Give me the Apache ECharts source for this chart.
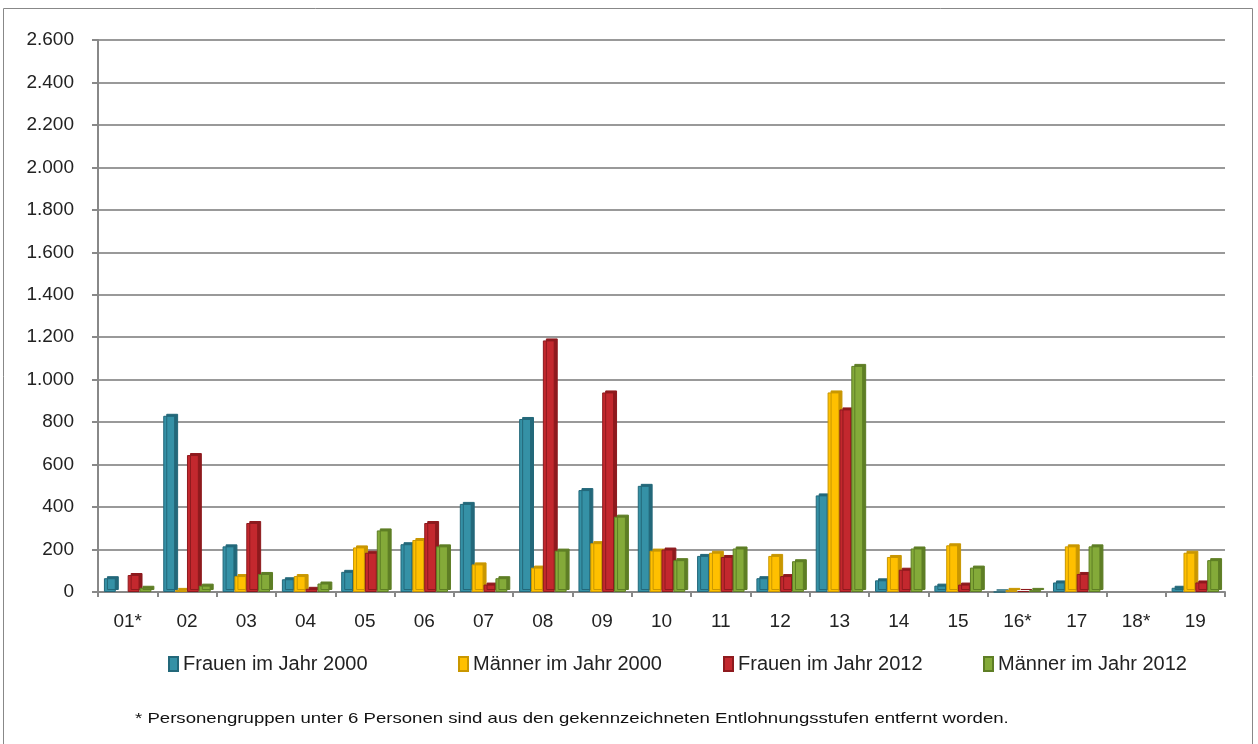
<!DOCTYPE html>
<html><head><meta charset="utf-8">
<script src="https://cdn.jsdelivr.net/npm/echarts@6/dist/echarts.min.js"></script>
<style>html,body{margin:0;padding:0;background:#fff}#c{width:1258px;height:744px}</style>
</head><body><div id="c"></div>
<script>
const categories = ['01*','02','03','04','05','06','07','08','09','10','11','12','13','14','15','16*','17','18*','19'];
const frauen2000 = [65,830,215,60,95,225,415,815,480,500,170,65,455,55,30,0,45,null,20];
const maenner2000 = [null,10,75,75,210,245,130,115,230,195,185,170,940,165,220,10,215,null,185];
const frauen2012 = [80,645,325,15,185,325,35,1185,940,200,165,75,860,105,35,5,85,null,45];
const maenner2012 = [20,30,85,40,290,215,65,195,355,150,205,145,1065,205,115,10,215,null,150];
const seriesNames = ['Frauen im Jahr 2000','Männer im Jahr 2000','Frauen im Jahr 2012','Männer im Jahr 2012'];
const yTicks = [0,200,400,600,800,1000,1200,1400,1600,1800,2000,2200,2400,2600];
const footnote = '* Personengruppen unter 6 Personen sind aus den gekennzeichneten Entlohnungsstufen entfernt worden.';

const colors = ['#3591A6','#FFC000','#C3282E','#84AA39'];
const dark = ['#23687A','#C99700','#8E1A1E','#5E7E25'];
const legendLeft = [163,453,718,978];
const chart = echarts.init(document.getElementById('c'));
const data = [frauen2000, maenner2000, frauen2012, maenner2012];
chart.setOption({
  animation:false,
  textStyle:{fontFamily:'Liberation Sans, Arial, sans-serif'},
  graphic:[
    {type:'rect',shape:{x:3.5,y:8.5,width:1249,height:740},style:{fill:'none',stroke:'#888',lineWidth:1}},
    {type:'text',x:135,y:711,scaleX:1.24,style:{text:footnote,fontSize:15,fill:'#111',fontFamily:'Liberation Sans, Arial, sans-serif'}}
  ],
  grid:{left:98,right:33,top:40,bottom:152},
  legend:seriesNames.map((n,i)=>({top:649,left:legendLeft[i],itemWidth:9,itemHeight:14,icon:'rect',
    textStyle:{fontSize:20,color:'#222'},data:[n]})),
  xAxis:{type:'category',data:categories,
    axisLine:{lineStyle:{color:'#888',width:2}},
    axisTick:{show:true,length:5,lineStyle:{color:'#888',width:2}},
    axisLabel:{fontSize:19,color:'#222',margin:20}},
  yAxis:{type:'value',min:0,max:2600,interval:200,
    axisLine:{show:true,lineStyle:{color:'#888',width:2}},
    axisTick:{show:true,length:6,lineStyle:{color:'#888',width:2}},
    splitLine:{lineStyle:{color:'#999',width:2}},
    axisLabel:{fontSize:19,color:'#222',margin:24,
      formatter:v=>String(v).replace(/\B(?=(\d{3})+(?!\d))/g,'.')}},
  series:data.map((d,i)=>({name:seriesNames[i],type:'bar',data:d,barGap:'0%',barCategoryGap:'20%',
    itemStyle:{color:colors[i],borderColor:dark[i],borderWidth:1,shadowColor:dark[i],shadowOffsetX:3,shadowOffsetY:-2,shadowBlur:0}}))
});
</script></body></html>
